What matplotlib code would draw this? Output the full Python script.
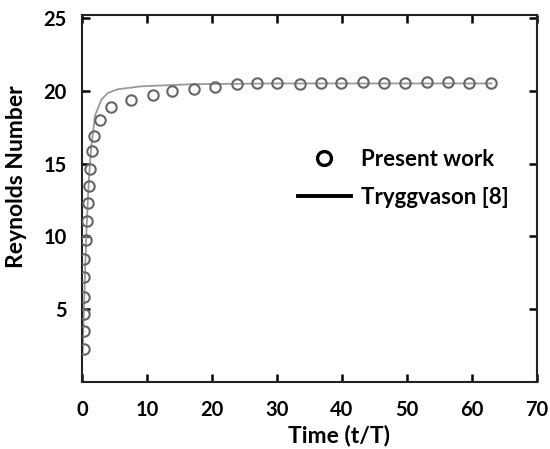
import matplotlib
matplotlib.use("Agg")
import matplotlib.pyplot as plt
from matplotlib.lines import Line2D

# Present work (circles)
time_pw = [0.25, 0.3, 0.3, 0.35, 0.25, 0.3, 0.55, 0.75, 0.95, 1.1, 1.2, 1.5,
           1.9, 2.7, 4.5, 7.6, 10.9, 13.9, 17.2, 20.4, 23.8, 26.9, 30.0, 33.6,
           36.7, 39.8, 43.2, 46.5, 49.7, 53.0, 56.3, 59.5, 62.9]
re_pw = [2.3, 3.5, 4.65, 5.85, 7.2, 8.45, 9.75, 11.05, 12.3, 13.45, 14.65,
         15.85, 16.9, 18.0, 18.9, 19.35, 19.7, 19.95, 20.1, 20.25, 20.45,
         20.5, 20.5, 20.45, 20.55, 20.55, 20.6, 20.5, 20.5, 20.6, 20.6,
         20.5, 20.5]

# Tryggvason [8] (line)
time_tr = [0.1, 0.2, 0.3, 0.5, 0.7, 0.9, 1.1, 1.4, 2.0, 3.0, 4.0, 5.5, 9.0,
           17.0, 30.0, 63.0]
re_tr = [2.0, 3.5, 5.0, 8.0, 10.5, 12.5, 14.2, 16.0, 18.3, 19.4, 19.85,
         20.1, 20.3, 20.45, 20.5, 20.5]

xticks = [0, 10, 20, 30, 40, 50, 60, 70]
yticks = [5, 10, 15, 20, 25]

plt.rcParams['font.family'] = ['Lato', 'DejaVu Sans']
plt.rcParams['font.weight'] = 'bold'

fig = plt.figure(figsize=(5.5, 4.49), dpi=100)
ax = fig.add_axes([82/550, 1 - 382/449, 455/550, 367/449])

ax.plot(time_tr, re_tr, color='#999999', lw=1.3, zorder=2)
ax.plot(time_pw, re_pw, 'o', ms=7.5, mfc='none', mec='#666666', mew=1.5, zorder=3)

ax.set_xlim(0, 70)
ax.set_ylim(0, 25.2)
ax.set_xticks(xticks)
ax.set_yticks(yticks)
ax.tick_params(direction='in', length=6, width=1.8, top=True, right=True,
               labelsize=14.5)
ax.tick_params(axis='x', pad=13)
ax.tick_params(axis='y', pad=11)
for s in ax.spines.values():
    s.set_linewidth(1.5)
    s.set_color('#222222')

ax.set_xlabel('Time (t/T)', fontsize=16.5, fontweight='bold')
ax.set_ylabel('Reynolds Number', fontsize=16.5, fontweight='bold')
ax.xaxis.set_label_coords(0.565, -0.115)
ax.yaxis.set_label_coords(-0.12, 0.56)

handles = [Line2D([], [], marker='o', ls='none', ms=10, mfc='none', mec='black', mew=2.4),
           Line2D([], [], color='black', lw=2.8)]
ax.legend(handles, ['Present work', 'Tryggvason [8]'], frameon=False,
          loc='center left', bbox_to_anchor=(0.43, 0.555), fontsize=16,
          handlelength=2.4, handletextpad=0.45, labelspacing=0.75)

fig.savefig('out.png', dpi=100)
